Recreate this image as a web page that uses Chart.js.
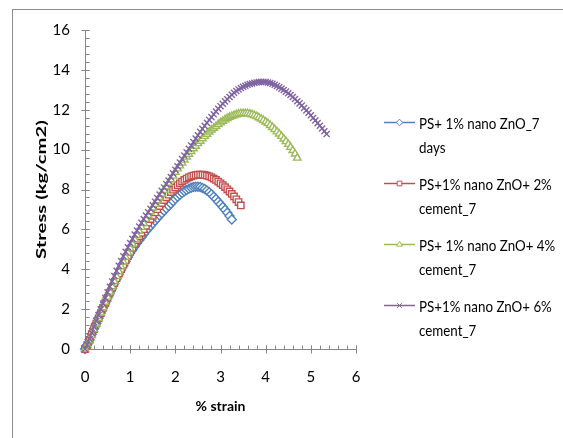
<!DOCTYPE html>
<html><head><meta charset="utf-8">
<script src="https://cdn.jsdelivr.net/npm/chart.js@4/dist/chart.umd.min.js"></script>
<style>
html,body{margin:0;padding:0;background:#fff;}
#wrap{position:relative;width:563px;height:438px;overflow:hidden;}
#frame{position:absolute;left:12px;top:9px;width:620px;height:500px;border:1px solid #8c8c8c;box-sizing:border-box;}
canvas{position:absolute;left:0;top:0;}
</style></head>
<body><div id="wrap"><div id="frame"></div><canvas id="c" width="563" height="438"></canvas></div>
<script>
// ---- data ----
const strain = [0,0.05,0.10,0.15,0.20,0.25,0.30,0.35,0.40,0.45,0.50,0.55,0.60,0.65,0.70,0.75,0.80,0.85,0.90,0.95,
1.00,1.05,1.10,1.15,1.20,1.25,1.30,1.35,1.40,1.45,1.50,1.55,1.60,1.65,1.70,1.75,1.80,1.85,1.90,1.95,
2.00,2.05,2.10,2.15,2.20,2.25,2.30,2.35,2.40,2.45,2.50,2.55,2.60,2.65,2.70,2.75,2.80,2.85,2.90,2.95,
3.00,3.05,3.10,3.15,3.20,3.25,3.30,3.35,3.40,3.45,3.50,3.55,3.60,3.65,3.70,3.75,3.80,3.85,3.90,3.95,
4.00,4.05,4.10,4.15,4.20,4.25,4.30,4.35,4.40,4.45,4.50,4.55,4.60,4.65,4.70,4.75,4.80,4.85,4.90,4.95,
5.00,5.05,5.10,5.15,5.20,5.25,5.30,5.35];

const stressZnO7days = [0,0.21,0.47,0.74,1.01,1.28,1.55,1.81,2.07,2.32,2.57,2.81,3.05,3.29,3.52,3.75,3.97,4.19,4.40,4.61,
4.81,4.98,5.14,5.30,5.46,5.61,5.76,5.90,6.04,6.17,6.30,6.43,6.56,6.69,6.81,6.93,7.05,7.17,7.29,7.41,
7.53,7.64,7.74,7.83,7.91,7.98,8.04,8.09,8.12,8.14,8.14,8.12,8.08,8.02,7.95,7.86,7.76,7.64,7.52,7.39,
7.26,7.12,6.98,6.83,6.67,6.50];

const stressCement2 = [0,0.20,0.46,0.73,1.00,1.27,1.54,1.80,2.06,2.32,2.57,2.82,3.07,3.31,3.55,3.78,4.01,4.23,4.45,4.66,
4.87,5.07,5.27,5.46,5.65,5.83,6.01,6.18,6.35,6.52,6.68,6.85,7.01,7.17,7.32,7.47,7.61,7.74,7.87,7.99,
8.10,8.21,8.31,8.40,8.48,8.55,8.61,8.66,8.70,8.72,8.74,8.74,8.74,8.73,8.70,8.66,8.61,8.55,8.48,8.40,
8.31,8.22,8.12,8.01,7.90,7.78,7.65,7.51,7.37,7.20];

const stressCement4 = [0,0.18,0.43,0.70,0.98,1.26,1.54,1.81,2.08,2.35,2.61,2.87,3.13,3.39,3.64,3.89,4.13,4.37,4.60,4.83,
5.05,5.27,5.49,5.70,5.91,6.11,6.31,6.51,6.70,6.89,7.08,7.26,7.44,7.61,7.78,7.96,8.14,8.32,8.50,8.68,
8.87,9.04,9.19,9.33,9.48,9.63,9.77,9.91,10.05,10.18,10.31,10.43,10.55,10.67,10.78,10.89,10.99,11.08,11.17,11.26,
11.35,11.43,11.50,11.57,11.63,11.68,11.72,11.76,11.79,11.81,11.82,11.82,11.81,11.79,11.76,11.72,11.67,11.61,11.54,11.47,
11.39,11.31,11.22,11.12,11.01,10.90,10.79,10.67,10.54,10.41,10.27,10.12,9.96,9.79,9.58];

const stressCement6 = [0,0.22,0.50,0.80,1.10,1.40,1.70,1.99,2.28,2.56,2.84,3.12,3.39,3.66,3.92,4.17,4.41,4.65,4.88,5.10,
5.32,5.53,5.74,5.94,6.14,6.33,6.52,6.69,6.86,7.03,7.21,7.39,7.57,7.75,7.93,8.10,8.27,8.45,8.63,8.81,
8.99,9.17,9.35,9.53,9.70,9.87,10.04,10.21,10.38,10.55,10.72,10.89,11.04,11.19,11.34,11.49,11.63,11.77,11.91,12.05,
12.18,12.30,12.42,12.53,12.64,12.75,12.85,12.94,13.02,13.09,13.15,13.20,13.25,13.29,13.32,13.35,13.37,13.39,13.40,13.40,
13.39,13.37,13.34,13.30,13.25,13.19,13.13,13.06,12.99,12.91,12.83,12.74,12.64,12.54,12.43,12.32,12.21,12.09,11.97,11.85,
11.72,11.59,11.46,11.33,11.20,11.06,10.92,10.78];

const seriesNames = ["PS+ 1% nano ZnO_7 days","PS+1% nano ZnO+ 2% cement_7","PS+ 1% nano ZnO+ 4% cement_7","PS+1% nano ZnO+ 6% cement_7"];
const legendLines = [["PS+ 1% nano ZnO_7","days"],["PS+1% nano ZnO+ 2%","cement_7"],["PS+ 1% nano ZnO+ 4%","cement_7"],["PS+1% nano ZnO+ 6%","cement_7"]];
const xTicks = [0,1,2,3,4,5,6];
const yTicks = [0,2,4,6,8,10,12,14,16];
const xTitle = "% strain";
const yTitle = "Stress (kg/cm2)";

// ---- styling ----
const colors = ['#4F81BD','#C0504D','#9BBB59','#8064A2'];
const styles = ['rectRot','rect','triangle','crossRot'];
const radii = [4.5, 4.5, 4.3, 4.3];
const allStress = [stressZnO7days, stressCement2, stressCement4, stressCement6];
const AXIS = '#868686';
const FONT = 'Lato, "Open Sans", sans-serif';

const datasets = allStress.map((arr,i)=>({
  label: seriesNames[i],
  data: arr.map((v,k)=>({x: strain[k], y: v})),
  showLine: true,
  borderColor: colors[i],
  backgroundColor: '#ffffff',
  borderWidth: 1.5,
  pointStyle: styles[i],
  pointRadius: radii[i],
  pointBorderWidth: 1.4,
  pointBorderColor: colors[i],
  pointBackgroundColor: '#ffffff',
  order: 4 - i,
  clip: false
}));

const axesPlugin = {
  id: 'excelAxes',
  beforeDatasetsDraw(chart){
    const {ctx, scales:{x, y}} = chart;
    ctx.save();
    ctx.strokeStyle = AXIS; ctx.lineWidth = 1;
    const ax = Math.round(x.getPixelForValue(0)) + 0.5;
    const ay = Math.round(y.getPixelForValue(0)) + 0.5;
    const yTop = Math.round(y.getPixelForValue(yTicks[yTicks.length-1])) + 0.5;
    const xRight = Math.round(x.getPixelForValue(xTicks[xTicks.length-1])) + 0.5;
    ctx.beginPath();
    ctx.moveTo(ax, yTop); ctx.lineTo(ax, ay);
    ctx.moveTo(ax, ay); ctx.lineTo(xRight, ay);
    for (let k = 0; k <= 40; k++) {
      const py = Math.round(y.getPixelForValue(k*0.4)) + 0.5;
      ctx.moveTo(ax, py); ctx.lineTo(ax + 4, py);
    }
    yTicks.forEach(v => { const py = Math.round(y.getPixelForValue(v)) + 0.5; ctx.moveTo(ax - 4, py); ctx.lineTo(ax + 4, py); });
    for (let k = 0; k <= 30; k++) {
      const px = Math.round(x.getPixelForValue(k*0.2)) + 0.5;
      ctx.moveTo(px, ay); ctx.lineTo(px, ay - 4);
    }
    xTicks.forEach(v => { const px = Math.round(x.getPixelForValue(v)) + 0.5; ctx.moveTo(px, ay - 4); ctx.lineTo(px, ay + 4); });
    ctx.stroke();
    ctx.fillStyle = '#000';
    ctx.font = 'bold 14px ' + FONT;
    ctx.textAlign = 'center'; ctx.textBaseline = 'middle';
    ctx.translate(41.5, (y.top + y.bottom) / 2);
    ctx.rotate(-Math.PI / 2);
    ctx.scale(1.45, 1);
    ctx.fillText(yTitle, 0, 0);
    ctx.restore();
  }
};

const legendPlugin = {
  id: 'excelLegend',
  afterDraw(chart){
    const ctx = chart.ctx;
    ctx.save();
    chart.data.datasets.forEach((ds, i) => {
      const yl = 122.5 + i * 61;
      ctx.strokeStyle = ds.borderColor; ctx.lineWidth = 1.5;
      ctx.beginPath(); ctx.moveTo(384, yl); ctx.lineTo(415, yl); ctx.stroke();
      ctx.fillStyle = '#ffffff'; ctx.lineWidth = 1;
      Chart.helpers.drawPoint(ctx, {pointStyle: ds.pointStyle, radius: 3.3, borderWidth: 1, rotation: 0}, 399.5, yl);
      ctx.fillStyle = '#000'; ctx.font = '15px ' + FONT; ctx.textBaseline = 'alphabetic'; ctx.textAlign = 'left';
      legendLines[i].forEach((t, j) => {
        ctx.save();
        ctx.translate(419, yl + 6 + j * 24.5);
        ctx.scale(0.89, 1);
        ctx.fillText(t, 0, 0);
        ctx.restore();
      });
    });
    ctx.restore();
  }
};

new Chart(document.getElementById('c'), {
  type: 'scatter',
  data: { datasets },
  plugins: [axesPlugin, legendPlugin],
  options: {
    responsive: false, animation: false, devicePixelRatio: 1, events: [],
    layout: { padding: { left: 0, right: 207, top: 30, bottom: 0 } },
    plugins: { legend: { display: false }, tooltip: { enabled: false } },
    scales: {
      x: {
        type: 'linear', min: 0, max: 6,
        afterBuildTicks: s => { s.ticks = xTicks.map(v => ({value: v})); },
        ticks: { color: '#000', font: { family: FONT, size: 15 }, padding: 19, maxRotation: 0 },
        grid: { display: false, drawTicks: false }, border: { display: false },
        title: { display: true, text: xTitle, color: '#000', font: { family: FONT, size: 14, weight: 'bold' }, padding: { top: 0, bottom: 23 } },
        afterFit: s => { s.height = 89; }
      },
      y: {
        type: 'linear', min: 0, max: 16,
        afterBuildTicks: s => { s.ticks = yTicks.map(v => ({value: v})); },
        ticks: { color: '#000', font: { family: FONT, size: 15 }, padding: 15 },
        grid: { display: false, drawTicks: false }, border: { display: false },
        title: { display: false },
        afterFit: s => { s.width = 85; }
      }
    }
  }
});
</script>
</body></html>
